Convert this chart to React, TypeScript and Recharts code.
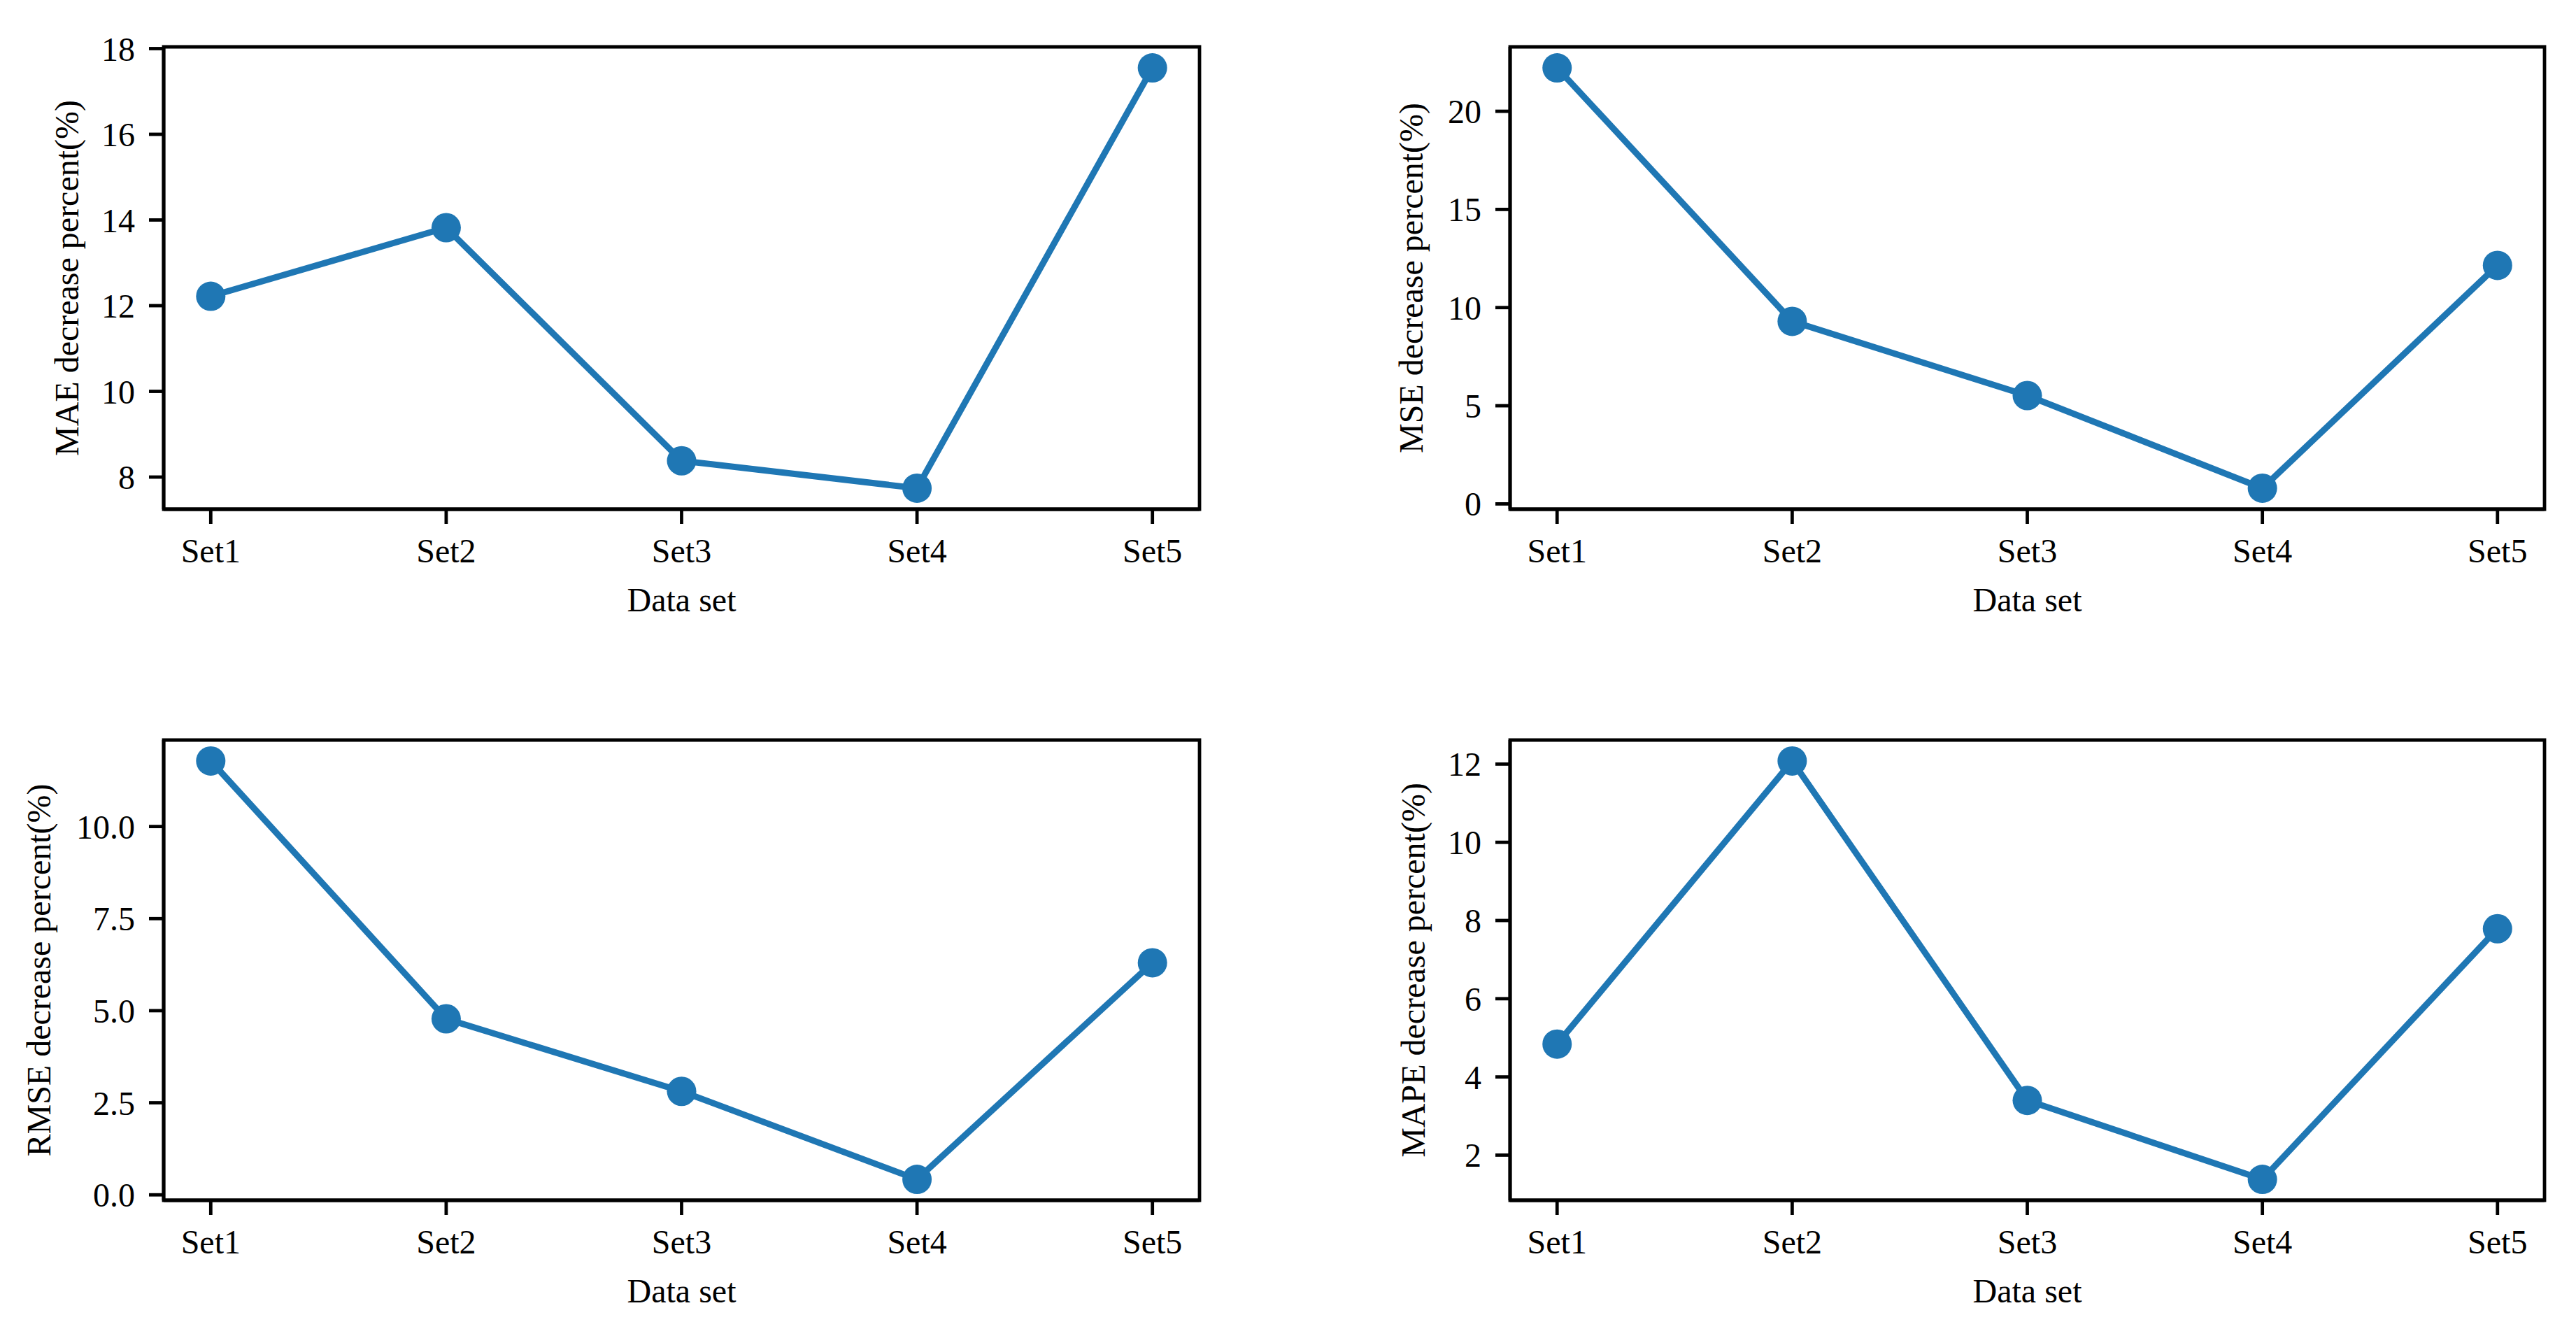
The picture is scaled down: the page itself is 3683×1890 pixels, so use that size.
import React from 'react';
import { LineChart, Line, XAxis, YAxis, ReferenceArea, Label } from 'recharts';

const categories = ['Set1', 'Set2', 'Set3', 'Set4', 'Set5'];
const maeValues = [12.22, 13.82, 8.38, 7.74, 17.55];
const mseValues = [22.21, 9.3, 5.52, 0.8, 12.15];
const rmseValues = [11.78, 4.78, 2.81, 0.42, 6.3];
const mapeValues = [4.84, 12.08, 3.4, 1.38, 7.79];

const maeTicks = [8, 10, 12, 14, 16, 18];
const mseTicks = [0, 5, 10, 15, 20];
const rmseTicks = [0, 2.5, 5, 7.5, 10];
const mapeTicks = [2, 4, 6, 8, 10, 12];

const FONT = '"Liberation Serif", "Times New Roman", serif';
const BLUE = '#1f77b4';
const SPINE = 4.8;

const padDomain = (vals: number[]): [number, number] => {
  const mn = Math.min(...vals);
  const mx = Math.max(...vals);
  const m = (mx - mn) * 0.05;
  return [mn - m, mx + m];
};

const xDomain: [number, number] = [-(categories.length - 1) * 0.05, (categories.length - 1) * 1.05];

type PanelProps = {
  values: number[];
  ticks: number[];
  fmt: (v: number) => string;
  ylabel: string;
  chartLeft: number;
  chartTop: number;
  chartWidth: number;
  chartHeight: number;
  plotLeft: number;
  plotTop: number;
  plotRight: number;
  plotBottom: number;
  labelX: number;
};

function Panel(p: PanelProps) {
  const data = p.values.map((v, i) => ({ x: i, v }));
  const yDomain = padDomain(p.values);
  const yAxisWidth = p.plotLeft - p.chartLeft;
  const xAxisHeight = p.chartTop + p.chartHeight - p.plotBottom;
  const ly = (p.plotTop + p.plotBottom) / 2 - p.chartTop;
  const lx = p.labelX - p.chartLeft;
  const cx = (p.plotLeft + p.plotRight) / 2 - p.chartLeft;
  return (
    <div style={{ position: 'absolute', left: p.chartLeft, top: p.chartTop }}>
      <LineChart
        width={p.chartWidth}
        height={p.chartHeight}
        data={data}
        margin={{ top: p.plotTop - p.chartTop, right: p.chartLeft + p.chartWidth - p.plotRight, bottom: 0, left: 0 }}
      >
        <XAxis
          dataKey="x"
          type="number"
          domain={xDomain}
          allowDataOverflow
          ticks={categories.map((_, i) => i)}
          tickFormatter={(i: number) => categories[i]}
          height={xAxisHeight}
          axisLine={{ stroke: '#000', strokeWidth: SPINE }}
          tickLine={{ stroke: '#000', strokeWidth: SPINE }}
          tickSize={21}
          tickMargin={21}
          tick={{ fill: '#000', fontSize: 48, fontFamily: FONT }}
          interval={0}
        >
          <Label
            content={() => (
              <text x={cx} y={p.plotBottom - p.chartTop + 146} textAnchor="middle" fontSize={48} fontFamily={FONT} fill="#000">
                Data set
              </text>
            )}
          />
        </XAxis>
        <YAxis
          type="number"
          domain={yDomain}
          allowDataOverflow
          ticks={p.ticks}
          tickFormatter={p.fmt}
          width={yAxisWidth}
          axisLine={{ stroke: '#000', strokeWidth: SPINE }}
          tickLine={{ stroke: '#000', strokeWidth: SPINE }}
          tickSize={21}
          tickMargin={20}
          tick={{ fill: '#000', fontSize: 48, fontFamily: FONT }}
          interval={0}
        >
          <Label
            content={() => (
              <text
                x={lx}
                y={ly}
                transform={`rotate(-90, ${lx}, ${ly})`}
                textAnchor="middle"
                dominantBaseline="central"
                fontSize={48}
                fontFamily={FONT}
                fill="#000"
              >
                {p.ylabel}
              </text>
            )}
          />
        </YAxis>
        <ReferenceArea
          x1={xDomain[0]}
          x2={xDomain[1]}
          y1={yDomain[0]}
          y2={yDomain[1]}
          fill="none"
          fillOpacity={0}
          stroke="#000"
          strokeWidth={SPINE}
          ifOverflow="visible"
        />
        <Line
          dataKey="v"
          stroke={BLUE}
          strokeWidth={9}
          dot={{ r: 21, fill: BLUE, stroke: BLUE, strokeWidth: 0 }}
          isAnimationActive={false}
        />
      </LineChart>
    </div>
  );
}

const fmtInt = (v: number) => String(v);
const fmt1 = (v: number) => v.toFixed(1);

export default function App() {
  return (
    <div style={{ position: 'absolute', left: 0, top: 0, width: 3683, height: 1890, background: '#fff' }}>
      <Panel values={maeValues} ticks={maeTicks} fmt={fmtInt} ylabel="MAE decrease percent(%)"
        chartLeft={0} chartTop={0} chartWidth={1841} chartHeight={945}
        plotLeft={234} plotTop={67} plotRight={1715} plotBottom={728} labelX={95} />
      <Panel values={mseValues} ticks={mseTicks} fmt={fmtInt} ylabel="MSE decrease percent(%)"
        chartLeft={1841} chartTop={0} chartWidth={1842} chartHeight={945}
        plotLeft={2159} plotTop={67} plotRight={3638} plotBottom={728} labelX={2017} />
      <Panel values={rmseValues} ticks={rmseTicks} fmt={fmt1} ylabel="RMSE decrease percent(%)"
        chartLeft={0} chartTop={945} chartWidth={1841} chartHeight={945}
        plotLeft={234} plotTop={1058} plotRight={1715} plotBottom={1716} labelX={55} />
      <Panel values={mapeValues} ticks={mapeTicks} fmt={fmtInt} ylabel="MAPE decrease percent(%)"
        chartLeft={1841} chartTop={945} chartWidth={1842} chartHeight={945}
        plotLeft={2159} plotTop={1058} plotRight={3638} plotBottom={1716} labelX={2020} />
    </div>
  );
}
